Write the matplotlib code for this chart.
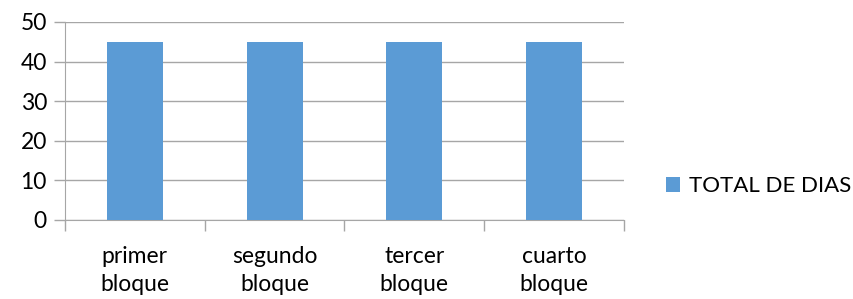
import numpy as np
import matplotlib.pyplot as plt

plt.rcParams['font.family'] = ['Lato', 'DejaVu Sans']

# Data
categorias = ["primer\nbloque", "segundo\nbloque", "tercer\nbloque", "cuarto\nbloque"]
total_dias = [45, 45, 45, 45]
serie = "TOTAL DE DIAS"

grid_color = '#a6a6a6'
bar_color = '#5b9bd5'

fig = plt.figure(figsize=(8.54, 2.99), dpi=100)
ax = fig.add_axes([65 / 854, 1 - 220 / 299, (624 - 65) / 854, (220 - 22) / 299])

x = np.arange(len(categorias))
ax.bar(x, total_dias, width=0.4, color=bar_color, label=serie, zorder=3)

ax.set_xlim(-0.5, len(categorias) - 0.5)
ax.set_ylim(0, 50)
ax.set_yticks(range(0, 51, 10))
ax.yaxis.grid(True, color=grid_color, linewidth=1, zorder=0)

# category boundaries as major ticks, labels on minor ticks
ax.set_xticks(np.arange(-0.5, len(categorias), 1.0))
ax.set_xticklabels([])
ax.set_xticks(x, minor=True)
ax.set_xticklabels(categorias, minor=True, fontsize=16.5, linespacing=1.4)
ax.tick_params(axis='x', which='minor', length=0, pad=19)
ax.tick_params(axis='x', which='major', length=8, color=grid_color, width=1)
ax.tick_params(axis='y', length=8, color=grid_color, width=1, labelsize=16.5, pad=5)

for s in ['top', 'right']:
    ax.spines[s].set_visible(False)
for s in ['left', 'bottom']:
    ax.spines[s].set_color(grid_color)

fig.legend(loc='center left', bbox_to_anchor=(666 / 854, 1 - 186 / 299),
           frameon=False, fontsize=16, borderpad=0, borderaxespad=0,
           handlelength=0.65, handleheight=0.65, handletextpad=0.4)

fig.savefig('out.png', dpi=100)
